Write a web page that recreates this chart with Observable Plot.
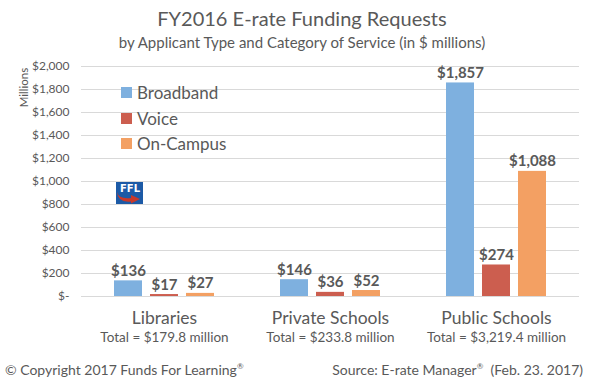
<!DOCTYPE html>
<html>
<head>
<meta charset="utf-8">
<script src="https://cdn.jsdelivr.net/npm/d3@7"></script>
<script src="https://cdn.jsdelivr.net/npm/@observablehq/plot@0.6"></script>
<style>
  body { margin: 0; background: #fff; font-family: Lato, "Open Sans", sans-serif; color: #595959; }
  #wrap { position: relative; width: 604px; height: 392px; overflow: hidden; }
  .title { padding-top: 4px; height: 28px; line-height: 28px; font-size: 20px; text-align: center; }
  .subtitle { height: 20px; line-height: 20px; font-size: 15px; text-align: center; }
  #chart { height: 304px; }
  .footer { position: relative; height: 24px; font-size: 14px; }
  .footer .l { position: absolute; left: 5px; top: 5px; }
  .footer .r { position: absolute; right: 21px; top: 5px; }
  .footer sup { font-size: 8px; vertical-align: 6px; line-height: 0; }
  .legend { position: absolute; left: 121px; top: 80px; font-size: 17px; }
  .legend div { height: 25.5px; line-height: 25.5px; display: flex; align-items: center; }
  .legend span.sw { display: inline-block; width: 11px; height: 11px; margin-right: 5px; }
  .logo { position: absolute; left: 116px; top: 182px; }
</style>
</head>
<body>
<div id="wrap">
  <div class="title">FY2016 E-rate Funding Requests</div>
  <div class="subtitle">by Applicant Type and Category of Service (in $ millions)</div>
  <div id="chart"></div>
  <div class="footer">
    <span class="l">© Copyright 2017 Funds For Learning<sup>®</sup></span>
    <span class="r">Source: E-rate Manager<sup>®</sup>&nbsp; (Feb. 23. 2017)</span>
  </div>
  <div class="legend" id="legend"></div>
  <svg class="logo" width="27" height="22" viewBox="0 0 27 22">
    <rect x="0" y="0" width="27" height="22" fill="#1c5aa6"/>
    <text x="14" y="10" text-anchor="middle" fill="#fff" font-family="DejaVu Sans" font-weight="bold" font-size="10">FFL</text>
    <path d="M1,10 Q3,17.5 15,16 L15,13 L24,17 L15,21.5 L15,19.5 Q2,21 1,10 Z" fill="#c8392b"/>
  </svg>
</div>
<script>
const categories = ["Libraries", "Private Schools", "Public Schools"];
const totals = ["Total = $179.8 million", "Total = $233.8 million", "Total = $3,219.4 million"];
const series = ["Broadband", "Voice", "On-Campus"];
const broadband = [136, 146, 1857];
const voice = [17, 36, 274];
const onCampus = [27, 52, 1088];
const colors = ["#7eb0df", "#cc5e4f", "#f3a063"];
const yTicks = [0, 200, 400, 600, 800, 1000, 1200, 1400, 1600, 1800, 2000];

const valuesBySeries = [broadband, voice, onCampus];
const rows = [];
categories.forEach((c, i) => {
  series.forEach((s, j) => rows.push({category: c, series: s, value: valuesBySeries[j][i]}));
});
const catRows = categories.map((c, i) => ({category: c, total: totals[i]}));

const fmt = d3.format("$,");
const textColor = "#595959";

const chart = Plot.plot({
  width: 604,
  height: 304,
  marginLeft: 80,
  marginRight: 24,
  marginTop: 14,
  marginBottom: 60,
  style: {fontFamily: "Lato, 'Open Sans', sans-serif", color: textColor, background: "#fff"},
  fx: {domain: categories, padding: 0, axis: null},
  x: {domain: series, paddingInner: 0.22, paddingOuter: 0.86, axis: null},
  y: {domain: [0, 2000], axis: null},
  color: {domain: series, range: colors},
  marks: [
    Plot.gridY(yTicks, {stroke: "#d9d9d9", strokeOpacity: 1, strokeWidth: 1}),
    Plot.axisY(yTicks, {tickSize: 0, tickPadding: 12, fontSize: 12, label: null,
      tickFormat: d => d === 0 ? "$-" : fmt(d), fill: textColor}),
    Plot.barY(rows, {fx: "category", x: "series", y: "value", fill: "series"}),
    Plot.text(rows, {fx: "category", x: "series", y: "value", text: d => fmt(d.value),
      lineAnchor: "bottom", dy: -5, fontSize: 15, fontWeight: "bold", fill: textColor}),
    Plot.text(catRows, {fx: "category", text: "category", frameAnchor: "bottom", dy: 27, fontSize: 17.5, fill: textColor}),
    Plot.text(catRows, {fx: "category", text: "total", frameAnchor: "bottom", dy: 45, fontSize: 13.5, fill: textColor}),
    Plot.text([categories[0]], {fx: d => d, text: ["Millions"], frameAnchor: "top-left", textAnchor: "middle",
      dx: -62, dy: 21, rotate: -90, fontSize: 11.5, fill: textColor})
  ]
});
document.getElementById("chart").appendChild(chart);

const legend = document.getElementById("legend");
series.forEach((s, i) => {
  const row = document.createElement("div");
  const sw = document.createElement("span");
  sw.className = "sw";
  sw.style.background = colors[i];
  row.appendChild(sw);
  row.appendChild(document.createTextNode(s));
  legend.appendChild(row);
});
</script>
</body>
</html>
